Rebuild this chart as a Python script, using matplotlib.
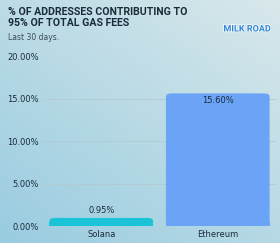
import numpy as np
import matplotlib.pyplot as plt
from matplotlib.patches import FancyBboxPatch, Rectangle
import matplotlib.patheffects as pe

categories = ["Solana", "Ethereum"]
values = [0.95, 15.60]
bar_colors = ["#1ac4d6", "#6ba4f6"]
yticks = [0, 5, 10, 15, 20]

W, H = 280, 243
fig = plt.figure(figsize=(W / 100, H / 100), dpi=100)

# background gradient (lighter top-right, bluer bottom-left)
bg = fig.add_axes([0, 0, 1, 1], zorder=-10)
yy, xx = np.mgrid[0:1:200j, 0:1:200j]
t = np.clip(0.55 * yy + 0.45 * (1 - xx), 0, 1)
c_top = np.array([0.85, 0.91, 0.92])
c_bot = np.array([0.60, 0.80, 0.88])
img = c_top[None, None, :] * (1 - t[..., None]) + c_bot[None, None, :] * t[..., None]
bg.imshow(img, aspect="auto", extent=[0, 1, 0, 1], origin="upper")
bg.axis("off")

fig.text(8 / W, 1 - 7 / H, "% OF ADDRESSES CONTRIBUTING TO\n95% OF TOTAL GAS FEES",
         ha="left", va="top", fontsize=7.6, fontweight="bold", color="#1b2b3a",
         family=["Roboto", "DejaVu Sans"], linespacing=1.1)
fig.text(8 / W, 1 - 33 / H, "Last 30 days.", ha="left", va="top",
         fontsize=5.5, color="#3a4a55")
fig.text(247 / W, 1 - 29 / H, "MILK ROAD", ha="center", va="center", fontsize=6.5,
         fontweight="bold", color="#2f86d6", family=["Roboto", "DejaVu Sans"],
         path_effects=[pe.withStroke(linewidth=1.0, foreground="white")])

ax_l, ax_r = 43 / W, 276 / W
ax_b, ax_t = 1 - 226 / H, 1 - 56 / H
ax = fig.add_axes([ax_l, ax_b, ax_r - ax_l, ax_t - ax_b])
ax.set_facecolor("none")

x = np.arange(len(categories))
bars = ax.bar(x, values, width=0.89, color="none")
ax.set_xlim(-0.5, 1.5)
ax.set_ylim(0, 20)

# rounded-top bars built on the bar geometry (small square patch hides bottom rounding)
for b, c in zip(bars, bar_colors):
    bx, by, bw, bh = b.get_x(), b.get_y(), b.get_width(), b.get_height()
    ax.add_patch(FancyBboxPatch((bx, by), bw, bh, boxstyle="round,pad=0,rounding_size=0.05",
                                mutation_aspect=7.3, facecolor=c, edgecolor="none", zorder=3))
    ax.add_patch(Rectangle((bx, by), bw, min(bh / 2, 0.5), facecolor=c,
                           edgecolor="none", zorder=3))

for xi, v in zip(x, values):
    if v > 5:
        ax.text(xi, v - 0.3, f"{v:.2f}%", ha="center", va="top", fontsize=6,
                color="#1b2b3a", zorder=4)
    else:
        ax.text(xi, v + 0.35, f"{v:.2f}%", ha="center", va="bottom", fontsize=6,
                color="#1b2b3a", zorder=4)

ax.set_yticks(yticks)
ax.set_yticklabels([f"{v:.2f}%" for v in yticks])
ax.set_xticks(x)
ax.set_xticklabels(categories)
ax.tick_params(length=0, labelsize=6, colors="#1b2b3a", pad=3)
for s in ax.spines.values():
    s.set_visible(False)
for g in yticks[1:-1]:
    ax.axhline(g, color="#b3c9d1", linewidth=0.6, zorder=0)
ax.axhline(0, color="#a9c3cc", linewidth=0.5, zorder=0)

fig.savefig("out.png", dpi=100)
